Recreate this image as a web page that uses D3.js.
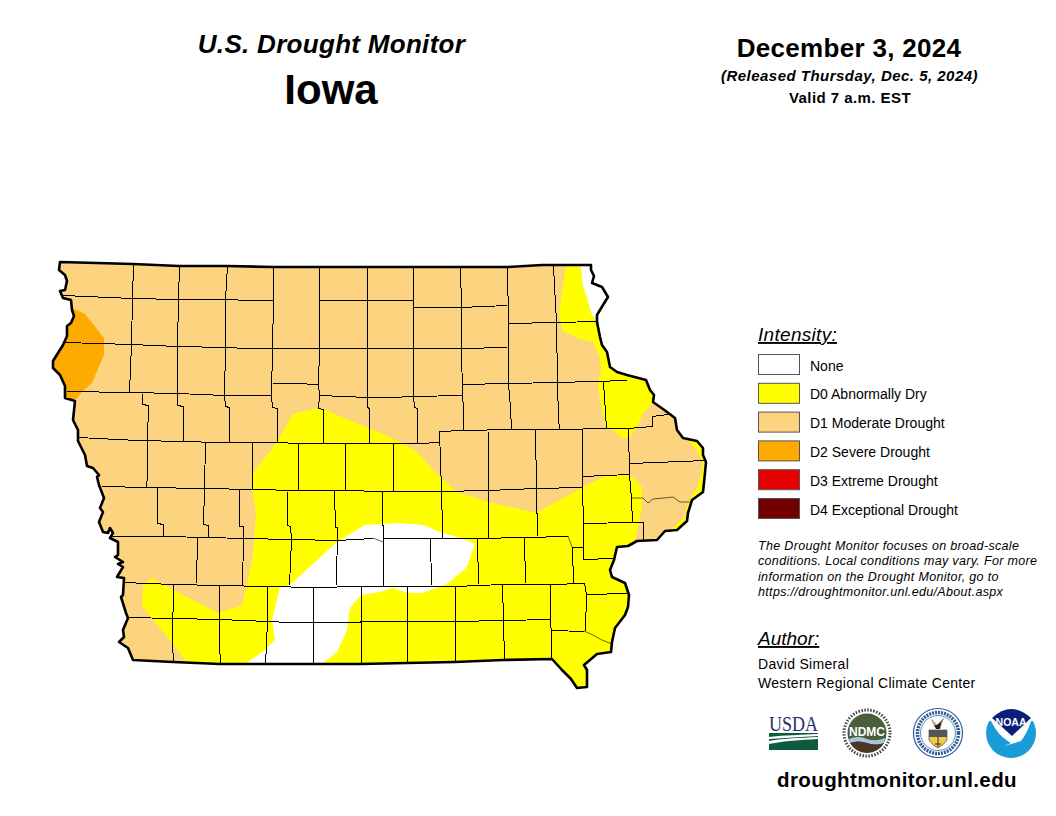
<!DOCTYPE html>
<html>
<head>
<meta charset="utf-8">
<title>U.S. Drought Monitor - Iowa</title>
<script src="https://cdn.jsdelivr.net/npm/d3@7"></script>
<style>
  body { margin: 0; background: #fff; }
  svg { display: block; }
  text { font-family: "Liberation Sans", Arial, sans-serif; fill: #000; }
</style>
</head>
<body>
<div id="chart"></div>
<script>
// legend
let legendLabels = ["None", "D0 Abnormally Dry", "D1 Moderate Drought", "D2 Severe Drought", "D3 Extreme Drought", "D4 Exceptional Drought"];
let legendColors = ["#ffffff", "#ffff00", "#fcd37f", "#ffaa00", "#e60000", "#730000"];
let noteLines = ["The Drought Monitor focuses on broad-scale", "conditions. Local conditions may vary. For more", "information on the Drought Monitor, go to", "https://droughtmonitor.unl.edu/About.aspx"];
let authorLines = ["David Simeral", "Western Regional Climate Center"];

// state border, map units
let stateOutline = [[0,0],[73,2],[119,4],[167,4],[213,5],[330,5],[400,5],[447,5],[482,3],[531,3],
  [531,8],[534,14],[532,21],[542,25],[548,35],[543,43],[537,53],[537,60],[540,75],[542,83],[547,90],[550,105],
  [557,110],[567,113],[586,118],[590,128],[594,133],[593,140],[603,147],[615,156],[617,168],[623,176],[637,179],
  [643,186],[643,193],[646,200],[645,211],[643,230],[632,238],[628,251],[627,259],[617,268],[605,269],[597,278],
  [577,279],[568,284],[557,285],[554,298],[550,308],[552,315],[565,321],[569,333],[568,345],[565,353],[555,366],
  [552,380],[551,390],[537,392],[524,403],[527,408],[527,425],[517,426],[511,417],[502,408],[492,397],
  [443,398],[395,400],[347,401],[300,402],[160,402],[113,400],[73,398],
  [68,386],[59,380],[64,375],[63,368],[68,356],[66,351],[61,335],[63,333],[64,316],[57,315],[63,305],[58,302],
  [63,300],[55,295],[58,293],[58,280],[50,276],[53,271],[50,266],[48,271],[43,270],[39,260],[43,250],[40,246],
  [44,236],[39,223],[37,215],[39,213],[33,206],[27,204],[25,193],[18,179],[18,168],[13,158],[15,139],[5,136],
  [5,124],[0,113],[-7,106],[-7,99],[-2,91],[3,83],[7,74],[7,64],[11,61],[14,54],[12,48],[11,38],[3,36],[0,29],
  [5,28],[7,19],[5,13],[-1,8]];

// drought areas, they run past the border and get clipped to it
let d0Main = [[259,146],[233,152],[217,180],[193,211],[192,226],[196,251],[193,291],[187,323],[182,343],[158,351],
  [123,333],[92,316],[83,323],[82,343],[93,358],[110,378],[128,402],[128,438],[580,438],[580,298],[575,278],
  [578,265],[582,245],[582,225],[570,213],[547,213],[522,226],[476,251],[428,240],[400,231],[392,226],[373,208],
  [357,190],[340,180],[320,171],[263,147]];
let d0NorthEast = [[507,-2],[520,-2],[523,23],[532,53],[537,60],[555,73],[605,123],[605,136],[593,141],[583,151],
  [578,163],[570,175],[562,176],[553,168],[546,166],[539,133],[538,121],[541,108],[540,96],[533,80],[517,76],
  [502,68],[499,50],[502,30]];
let d0East = [[628,178],[638,190],[643,200],[642,211],[640,215],[637,226],[628,240],[625,255],[613,266],[603,270],
  [595,278],[600,298],[660,238],[660,178],[628,168]];
let d2West = [[12,46],[25,52],[44,76],[44,93],[32,121],[22,130],[16,137],[-20,137],[-20,46]];
let noneSouth = [[185,402],[205,388],[215,378],[212,358],[220,325],[230,323],[277,280],[305,263],[340,261],[363,263],
  [380,270],[400,276],[415,282],[407,305],[387,322],[363,331],[347,331],[333,326],[320,330],[301,333],[290,346],
  [287,368],[277,390],[262,402],[262,418],[185,418]];
let noneNorthEast = [[520,-2],[523,23],[532,53],[537,60],[560,60],[560,-2]];

// county lines
let countyLines = [
  [[3,33],[72,36],[118,37],[165,37],[189,38],[213,38]],
  [[259,38],[353,38],[353,45],[400,45],[447,43]],
  [[448,61],[496,60],[537,59]],
  [[4,80],[71,82],[117,84],[165,85],[188,86],[330,86],[400,86],[447,85]],
  [[7,129],[69,130],[117,131],[164,133],[188,133],[211,133]],
  [[212,121],[235,121],[258,122]],
  [[259,133],[307,135],[330,135],[353,134],[402,133]],
  [[402,122],[448,121],[497,120],[533,119],[567,118]],
  [[73,2],[72,36],[71,82],[69,130]],
  [[119,4],[118,37],[117,84],[117,131],[117,143],[123,144],[123,179]],
  [[167,4],[165,37],[165,85],[164,133],[165,144],[169,145],[169,180]],
  [[213,5],[213,38],[212,86],[211,133],[212,145],[217,146],[217,180]],
  [[259,5],[259,38],[259,86],[258,122],[259,133],[258,146],[263,147],[263,181]],
  [[307,5],[307,86],[307,135],[307,145],[309,146],[309,181]],
  [[82,131],[82,142],[88,143],[87,178],[87,213],[86,225]],
  [[18,175],[77,178],[123,179],[157,180],[217,180],[238,181],[330,181],[357,181],[380,180]],
  [[145,180],[144,226]],
  [[192,180],[192,227]],
  [[238,181],[238,228]],
  [[285,181],[285,228]],
  [[333,181],[333,228]],
  [[353,5],[353,134],[354,145],[357,146],[357,181]],
  [[400,5],[401,45],[401,86],[402,133],[403,146],[403,167]],
  [[447,5],[448,61],[448,121],[450,145],[451,167]],
  [[493,4],[496,60],[497,120],[498,156],[499,167]],
  [[543,119],[546,166]],
  [[379,169],[403,168],[451,167],[499,167],[546,166],[568,166],[592,164],[592,154],[608,152]],
  [[379,169],[381,228],[382,265],[382,276]],
  [[428,169],[428,228],[428,275]],
  [[475,168],[476,226],[477,274]],
  [[522,166],[522,225],[523,261],[523,297]],
  [[568,166],[569,212],[571,236],[572,260]],
  [[570,201],[645,198]],
  [[522,214],[569,212]],
  [[523,261],[572,260],[583,260],[583,278]],
  [[523,297],[553,296]],
  [[42,224],[86,225],[144,226],[192,227],[238,228],[285,228],[322,229],[380,229],[428,228],[476,226],[522,225]],
  [[50,274],[103,274],[148,275],[183,276],[231,277],[277,278],[313,276]],
  [[323,276],[370,276],[417,276],[464,275],[508,274]],
  [[512,285],[523,285]],
  [[97,225],[97,261],[103,262],[103,274]],
  [[144,226],[143,262],[148,263],[148,275]],
  [[179,227],[179,264],[183,264],[183,276],[182,323]],
  [[227,229],[227,263],[230,264],[231,277],[229,323]],
  [[274,229],[275,265],[277,265],[276,323]],
  [[322,229],[322,263],[323,263],[323,323]],
  [[137,276],[136,321]],
  [[370,276],[371,323]],
  [[417,276],[418,322]],
  [[464,275],[465,321]],
  [[512,285],[513,321]],
  [[63,320],[113,322],[159,323],[207,324],[253,325],[301,324],[347,324],[395,324],[442,322],[490,322],[524,321],[526,332],[568,331]],
  [[68,355],[113,356],[159,357],[183,358],[207,359],[230,360],[253,360],[347,359],[395,359],[443,358],[490,357]],
  [[113,322],[112,380],[113,400]],
  [[159,323],[159,381],[160,402]],
  [[207,324],[207,359],[206,381],[205,402]],
  [[253,325],[253,381],[253,402]],
  [[301,324],[301,402]],
  [[347,324],[347,401]],
  [[395,324],[395,400]],
  [[442,322],[443,358],[444,398]],
  [[490,322],[490,363],[491,368],[491,397]],
  [[491,368],[524,369]],
  [[526,332],[525,369]]
];
// rivers used as county lines, drawn thinner
let riverLines = [
  [[571,236],[583,236],[588,241],[593,237],[604,236],[613,235],[620,240],[630,240]],
  [[508,274],[512,285]],
  [[313,276],[318,278],[323,280]],
  [[524,369],[533,373],[542,378],[552,382]]
];

let width = 1056;
let height = 816;

let svg = d3.select("#chart").append("svg")
  .attr("width", width)
  .attr("height", height);

// map scales
let x = d3.scaleLinear().domain([-8, 646]).range([52, 706]);
let y = d3.scaleLinear().domain([0, 426]).range([262, 688]);
let line = d3.line().x(d => x(d[0])).y(d => y(d[1]));
let shape = pts => line(pts) + "Z";

svg.append("clipPath").attr("id", "state")
  .append("path").attr("d", shape(stateOutline));

// base colour is D1, everything else sits on top
let areas = svg.append("g").attr("clip-path", "url(#state)");
areas.append("path").attr("d", shape(stateOutline)).attr("fill", legendColors[2]);
[d0Main, d0NorthEast, d0East].forEach(a => areas.append("path").attr("d", shape(a)).attr("fill", legendColors[1]));
[noneSouth, noneNorthEast].forEach(a => areas.append("path").attr("d", shape(a)).attr("fill", legendColors[0]));
areas.append("path").attr("d", shape(d2West)).attr("fill", legendColors[3]);

// half pixel shift so the 1px lines land on one pixel row
svg.append("g").attr("transform", "translate(0.5,0.5)")
  .selectAll("path").data(countyLines).join("path")
  .attr("d", line).attr("fill", "none").attr("stroke", "#000").attr("stroke-width", 1)
  .attr("shape-rendering", "crispEdges");
svg.append("g").selectAll("path").data(riverLines).join("path")
  .attr("d", line).attr("fill", "none").attr("stroke", "#000").attr("stroke-width", 0.6);
svg.append("path").attr("d", shape(stateOutline))
  .attr("fill", "none").attr("stroke", "#000").attr("stroke-width", 2.6).attr("stroke-linejoin", "round");

// titles
function label(txt, px, py, size, opts) {
  opts = opts || {};
  return svg.append("text").attr("x", px).attr("y", py).text(txt)
    .attr("font-size", size)
    .attr("font-weight", opts.bold ? "bold" : "normal")
    .attr("font-style", opts.italic ? "italic" : "normal")
    .attr("text-anchor", opts.anchor || "start")
    .attr("text-decoration", opts.underline ? "underline" : "none")
    .attr("letter-spacing", opts.spacing || 0);
}
label("U.S. Drought Monitor", 331.5, 53, 26, {bold: true, italic: true, anchor: "middle", spacing: 0.3});
label("Iowa", 331, 104, 42, {bold: true, anchor: "middle"});
label("December 3, 2024", 849, 57, 26, {bold: true, anchor: "middle", spacing: 0.3});
label("(Released Thursday, Dec. 5, 2024)", 849.5, 81, 15, {bold: true, italic: true, anchor: "middle", spacing: 0.48});
label("Valid 7 a.m. EST", 850, 103, 15, {bold: true, anchor: "middle", spacing: 0.45});

// legend
label("Intensity:", 758, 341, 19, {italic: true, underline: true, spacing: 0.3});
let legendY = d3.scalePoint().domain(legendLabels).range([354, 498]);
let legend = svg.append("g").selectAll("g").data(legendLabels).join("g")
  .attr("transform", d => `translate(758,${legendY(d)})`);
legend.append("rect")
  .attr("x", 0.5).attr("y", 0.5).attr("width", 41).attr("height", 20)
  .attr("fill", (d, i) => legendColors[i]).attr("stroke", "#555").attr("stroke-width", 1);
legend.append("text").attr("x", 52).attr("y", 16.5).attr("font-size", 14).text(d => d);

noteLines.forEach((t, i) => label(t, 758, 550 + i * 15.3, 12.5, {italic: true, spacing: 0.33}));
label("Author:", 758, 645, 19, {italic: true, underline: true});
authorLines.forEach((t, i) => label(t, 758, 669 + i * 18.5, 14, {spacing: 0.3}));
label("droughtmonitor.unl.edu", 897, 787, 20.5, {bold: true, anchor: "middle", spacing: 0.4});

// agency logos
let usda = svg.append("g").attr("transform", "translate(769,716)");
usda.append("text").attr("x", 0).attr("y", 15).attr("font-size", 21).attr("textLength", 49)
  .attr("lengthAdjust", "spacingAndGlyphs").style("font-family", "Liberation Serif").style("fill", "#1f2f6c").text("USDA");
usda.append("rect").attr("x", 0).attr("y", 17).attr("width", 49).attr("height", 17).attr("fill", "#0f5b3e");
usda.append("path").attr("d", "M0,21 C16,19 32,19 49,18 L49,20 C32,21 16,22 0,23Z").attr("fill", "#fff");
usda.append("path").attr("d", "M0,25 C16,22 32,22 49,21 L49,23 C30,24 16,25 0,28Z").attr("fill", "#fff");

let ndmc = svg.append("g").attr("transform", "translate(867,733)");
ndmc.append("circle").attr("r", 23).attr("fill", "none").attr("stroke", "#444").attr("stroke-width", 3).attr("stroke-dasharray", "1.5 1.5");
ndmc.append("circle").attr("r", 19.5).attr("fill", "#4a5e3a");
ndmc.append("path").attr("d", "M-18,6 Q-9,2 0,6 Q9,9 18,5 L17,10 Q9,13 0,10 Q-9,7 -17,10Z").attr("fill", "#a9c3e0");
ndmc.append("path").attr("d", "M-17,10 Q-9,7 0,10 Q9,13 17,10 A19.5,19.5 0 0 1 -17,10Z").attr("fill", "#4b3525");
ndmc.append("text").attr("y", 3).attr("text-anchor", "middle").attr("font-size", 12).attr("font-weight", "bold")
  .style("fill", "#fff").text("NDMC");

let seal = svg.append("g").attr("transform", "translate(938,733)");
seal.append("circle").attr("r", 24.5).attr("fill", "#fff").attr("stroke", "#2f5d9a").attr("stroke-width", 1.2);
seal.append("circle").attr("r", 20.5).attr("fill", "none").attr("stroke", "#2f5d9a").attr("stroke-width", 3.5).attr("stroke-dasharray", "2 1");
seal.append("circle").attr("r", 17.5).attr("fill", "#fff").attr("stroke", "#2f74a8").attr("stroke-width", 0.8);
seal.append("path").attr("d", "M-9,-3 L9,-3 L9,7 Q6,12 0,15 Q-6,12 -9,7Z").attr("fill", "#f0c94f").attr("stroke", "#333").attr("stroke-width", 0.6);
seal.append("rect").attr("x", -9).attr("y", -3).attr("width", 18).attr("height", 7).attr("fill", "#555");
seal.append("path").attr("d", "M0,4 L0,14 M-3,11 L3,11").attr("stroke", "#333").attr("stroke-width", 1);
seal.append("path").attr("d", "M-7,-14 L-1,-8 L6,-15 L3,-8 L2,-4 L-2,-4Z").attr("fill", "#222");
seal.append("path").attr("d", "M-7,-14 L-4,-8 L-1,-8Z M6,-15 L4,-10 L2,-9Z").attr("fill", "#e2b93b");

let noaa = svg.append("g").attr("transform", "translate(1011,733)");
noaa.append("clipPath").attr("id", "noaaLocal").append("circle").attr("r", 25);
noaa.append("path")
  .attr("d", "M-20,-12 C-15,-2 -9,5 0,10 L-7,13 L10,8 C14,3 18,-5 20,-12 L30,-12 L30,30 L-30,30 L-30,-12Z")
  .attr("fill", "#1a9cd8")
  .attr("clip-path", "url(#noaaLocal)");
noaa.append("path").attr("d", "M-19,-15 Q0,-33 20,-15 L1,3Z").attr("fill", "#0a1f78");
noaa.append("text").attr("y", -7).attr("text-anchor", "middle").attr("font-size", 10.5).attr("font-weight", "bold")
  .style("fill", "#fff").text("NOAA");
</script>
</body>
</html>
